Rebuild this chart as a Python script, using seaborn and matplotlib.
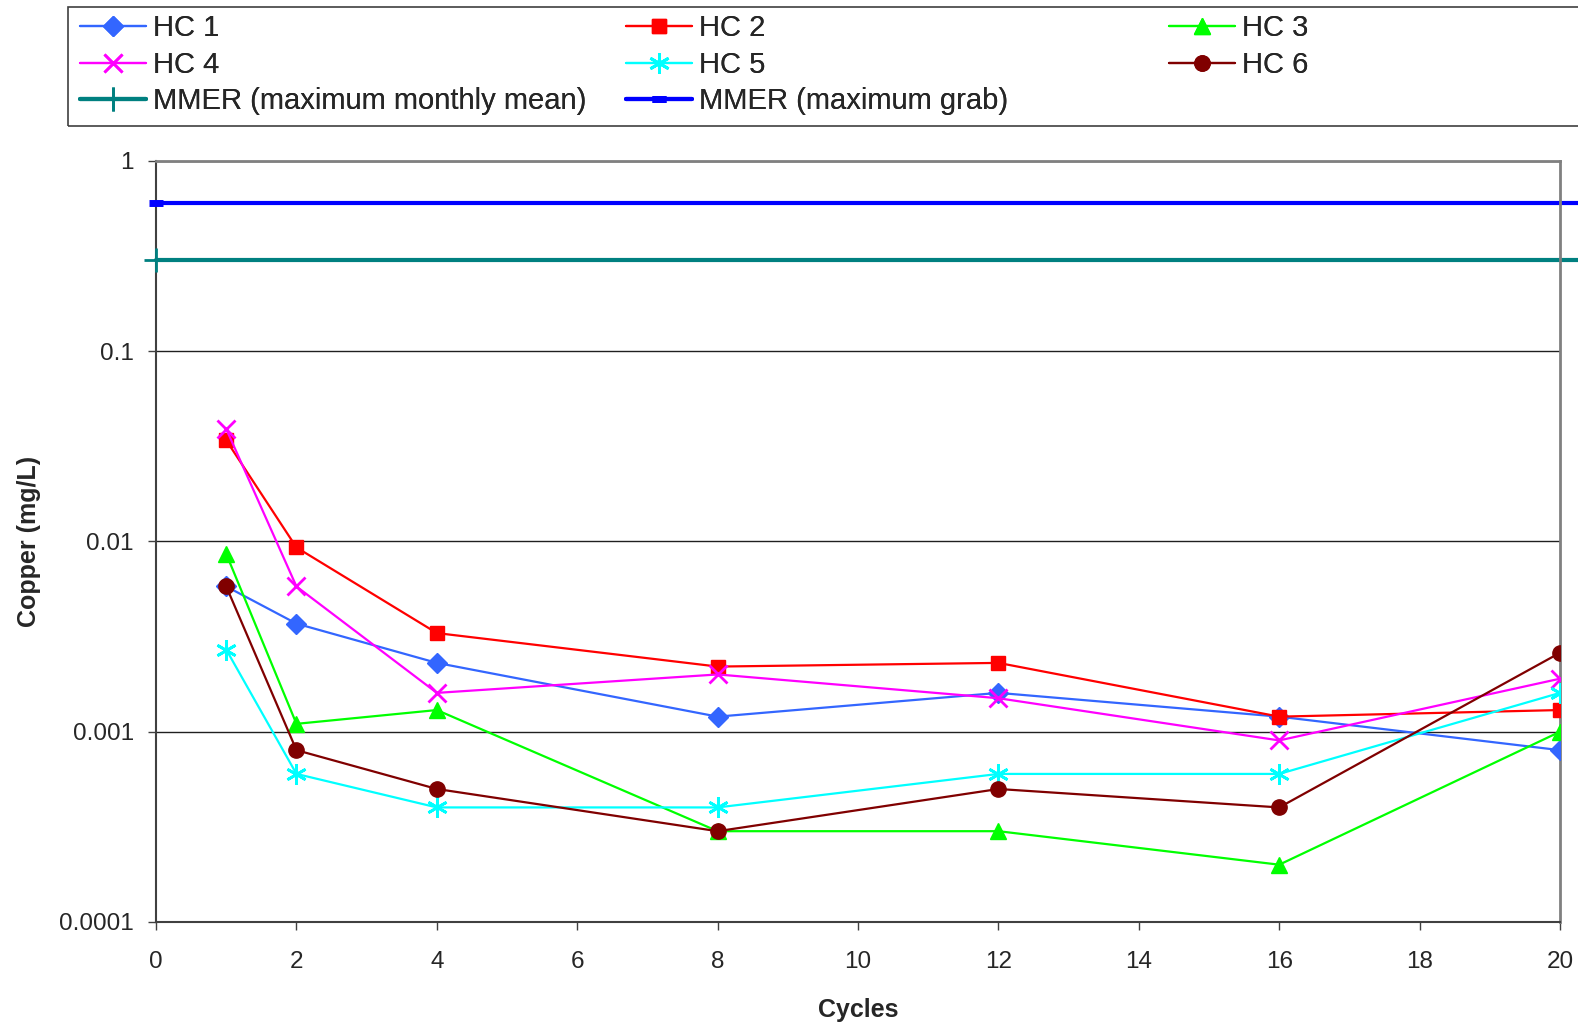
import numpy as np
import pandas as pd
import seaborn as sns
import matplotlib.pyplot as plt
from matplotlib.lines import Line2D
from matplotlib.patches import Rectangle

cycles = [1, 2, 4, 8, 12, 16, 20]
hc1 = [0.0058, 0.0037, 0.0023, 0.0012, 0.0016, 0.0012, 0.0008]
hc2 = [0.034, 0.0093, 0.0033, 0.0022, 0.0023, 0.0012, 0.0013]
hc3 = [0.0086, 0.0011, 0.0013, 0.0003, 0.0003, 0.0002, 0.001]
hc4 = [0.039, 0.0058, 0.0016, 0.002, 0.0015, 0.0009, 0.0019]
hc5 = [0.0027, 0.0006, 0.0004, 0.0004, 0.0006, 0.0006, 0.0016]
hc6 = [0.0058, 0.0008, 0.0005, 0.0003, 0.0005, 0.0004, 0.0026]
mmer_mean = 0.3
mmer_grab = 0.6
x_ticks = list(range(0, 21, 2))
y_ticks = [0.0001, 0.001, 0.01, 0.1, 1]
y_labels = ["0.0001", "0.001", "0.01", "0.1", "1"]

series = {"HC 1": hc1, "HC 2": hc2, "HC 3": hc3,
          "HC 4": hc4, "HC 5": hc5, "HC 6": hc6}
styles = {
    "HC 1": dict(color="#3366FF", marker="D", ms=10, mew=1),
    "HC 2": dict(color="#FF0000", marker="s", ms=10, mew=1),
    "HC 3": dict(color="#00FF00", marker="^", ms=12, mew=1),
    "HC 4": dict(color="#FF00FF", marker="x", ms=13, mew=2),
    "HC 5": dict(color="#00FFFF", marker=(6, 2, 0), ms=15, mew=2),
    "HC 6": dict(color="#800000", marker="o", ms=11, mew=1),
}

df = pd.DataFrame([(name, c, v) for name, vals in series.items()
                   for c, v in zip(cycles, vals)],
                  columns=["series", "cycle", "copper"])

sns.set_style("white")
plt.rcParams["font.family"] = ["Liberation Sans", "DejaVu Sans"]

fig = plt.figure(figsize=(15.78, 10.26), dpi=100)
ax = fig.add_axes([0.0989, 0.1014, 0.8897, 0.7417])

# MMER reference lines
ax.axhline(mmer_mean, xmin=0, xmax=1.02, color="#008080", lw=3, clip_on=False, zorder=2)
ax.axhline(mmer_grab, xmin=0, xmax=1.02, color="#0000FF", lw=3, clip_on=False, zorder=2)
ax.plot([0], [mmer_mean], marker="+", ms=17, mew=2, color="#008080", clip_on=False, zorder=3)
ax.plot([0], [mmer_grab], marker="_", ms=10, mew=5, color="#0000FF", clip_on=False, zorder=3)

for name in series:
    st = styles[name]
    sub = df[df["series"] == name]
    sns.lineplot(data=sub, x="cycle", y="copper", ax=ax, color=st["color"],
                 marker=st["marker"], markersize=st["ms"], markeredgewidth=st["mew"],
                 markeredgecolor=st["color"], linewidth=1.6, legend=False, zorder=4)

ax.set_yscale("log")
ax.set_xlim(0, 20)
ax.set_ylim(0.0001, 1)
ax.set_xticks(x_ticks)
ax.set_yticks(y_ticks)
ax.set_yticklabels(y_labels)
ax.minorticks_off()
ax.tick_params(axis="both", labelsize=17.5, direction="out", length=6, width=1,
               color="#404040", bottom=True, left=True)
ax.tick_params(axis="x", pad=15)
ax.tick_params(axis="y", pad=10)
ax.yaxis.grid(True, color="#202020", lw=1)
ax.xaxis.grid(False)
for s in ["left", "bottom"]:
    ax.spines[s].set_color("#404040")
    ax.spines[s].set_linewidth(1.5)
for s in ["top", "right"]:
    ax.spines[s].set_color("#808080")
    ax.spines[s].set_linewidth(2)

ax.set_xlabel("Cycles", fontsize=18, fontweight="bold", labelpad=18)
ax.set_ylabel("Copper (mg/L)", fontsize=18, fontweight="bold", labelpad=13)

# legend box
fig.patches.append(Rectangle((68 / 1578, 1 - 126 / 1026), 1.0, 119 / 1026,
                             transform=fig.transFigure, fill=False,
                             edgecolor="#404040", lw=1.2))

def handle(name):
    st = styles[name]
    return Line2D([], [], color=st["color"], marker=st["marker"], lw=1.6,
                  ms=st["ms"], mew=st["mew"], mec=st["color"])

h_mean = Line2D([], [], color="#008080", lw=3, marker="+", ms=17, mew=2)
h_grab = Line2D([], [], color="#0000FF", lw=3, marker="_", ms=10, mew=5)

columns = [
    (80, [handle("HC 1"), handle("HC 4"), h_mean],
     ["HC 1", "HC 4", "MMER (maximum monthly mean)"]),
    (626, [handle("HC 2"), handle("HC 5"), h_grab],
     ["HC 2", "HC 5", "MMER (maximum grab)"]),
    (1169, [handle("HC 3"), handle("HC 6")], ["HC 3", "HC 6"]),
]
for xpix, hs, ls in columns:
    leg = fig.legend(hs, ls, loc="upper left", bbox_to_anchor=(xpix / 1578, 1 - 14 / 1026),
                     frameon=False, fontsize=21, handlelength=2.25, handletextpad=0.25,
                     labelspacing=0.3, borderpad=0, borderaxespad=0)
    fig.add_artist(leg)

fig.savefig("out.png", dpi=100)
